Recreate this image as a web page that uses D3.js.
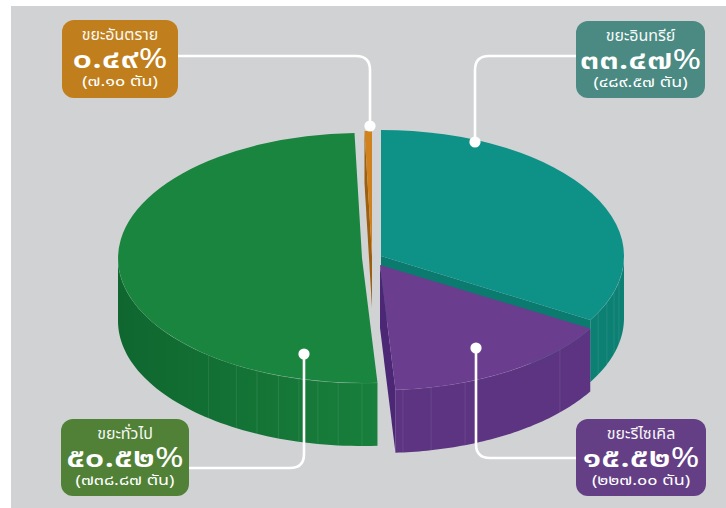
<!DOCTYPE html>
<html lang="th">
<head>
<meta charset="utf-8">
<script src="https://cdn.jsdelivr.net/npm/d3@7"></script>
<style>
  html, body { margin: 0; padding: 0; background: #fff; }
  svg { display: block; }
  text { font-family: "Noto Sans Thai", "Noto Sans", "Open Sans", sans-serif; fill: #fff; text-anchor: middle; }
</style>
</head>
<body>
<svg id="chart" width="726" height="508"></svg>
<script>
// Waste composition, in clockwise order from twelve o'clock
const categories = ["ขยะอินทรีย์", "ขยะรีไซเคิล", "ขยะทั่วไป", "ขยะอันตราย"];
const shares = [33.47, 15.52, 50.52, 0.49];
const tonnes = [489.57, 227.00, 738.87, 7.10];
const unit = "ตัน";

const topColors = ["#0e9187", "#6b3d8e", "#1a853e", "#d0821e"];
const wallColors = ["#0d8074", "#5c3482", "#14723a", "#9c5f12"];
const cutColors = ["#0b7a6f", "#4c2776", "#14723a", "#9c5f12"];
const boxColors = ["#4a8a82", "#653f85", "#518137", "#c07f1c"];

// Each slice is pulled away from the middle on its own centre
const slices = [
  { cx: 381, cy: 256, rx: 243, ry: 126, depth: 62 },
  { cx: 380, cy: 265, rx: 244, ry: 125, depth: 63 },
  { cx: 362, cy: 258, rx: 244, ry: 125, depth: 63 },
  { cx: 372, cy: 256, rx: 244, ry: 125, depth: 52 }
];

// Facet seams on the outer walls, in degrees clockwise from the top
const seams = [
  [116.7, 111.6, 106.5, 101.7],
  [174.6, 167.9, 159.6, 132.5],
  [219, 211, 205.5, 200, 195, 190.4, 185.6, 180],
  []
];

// Callout boxes and the leader line that runs from each one to its slice
const callouts = [
  { x: 576, y: 21, w: 129, h: 77, from: [576, 56], corner: [475, 56], to: [475, 142] },
  { x: 576, y: 419, w: 130, h: 77, from: [576, 458], corner: [476, 458], to: [476, 348] },
  { x: 61, y: 419, w: 128, h: 77, from: [189, 468], corner: [304, 468], to: [304, 354] },
  { x: 62, y: 20, w: 116, h: 78, from: [177, 56], corner: [370, 56], to: [370, 126] }
];

const svg = d3.select("#chart");
const thaiDigits = s => s.replace(/[0-9]/g, d => "๐๑๒๓๔๕๖๗๘๙"[+d]);
const fmt = d3.format(".2f");
const deg = Math.PI / 180;

svg.append("rect").attr("x", 11).attr("y", 6).attr("width", 715).attr("height", 502).attr("fill", "#d1d2d4");

const arcs = d3.pie().sort(null).value(d => d)(shares);
const arcPath = d3.arc().innerRadius(0).outerRadius(100);

const rim = (s, a) => [s.cx + s.rx * Math.sin(a), s.cy - s.ry * Math.cos(a)];
const line = d3.line();

const defs = svg.append("defs");
const greenShade = defs.append("linearGradient").attr("id", "greenWall")
  .attr("gradientUnits", "userSpaceOnUse").attr("x1", 118).attr("x2", 378);
greenShade.append("stop").attr("offset", 0).attr("stop-color", "#0f672f");
greenShade.append("stop").attr("offset", 1).attr("stop-color", "#187f3c");

function drawWall(i) {
  const s = slices[i], a = arcs[i];
  const lo = Math.max(a.startAngle, Math.PI / 2), hi = Math.min(a.endAngle, Math.PI * 1.5);
  if (lo >= hi) return;
  const angles = d3.range(0, 61).map(k => lo + (hi - lo) * k / 60);
  const upper = angles.map(t => rim(s, t));
  const lower = angles.slice().reverse().map(t => { const p = rim(s, t); return [p[0], p[1] + s.depth]; });
  svg.append("path").attr("d", line(upper.concat(lower)) + "Z")
    .attr("fill", i === 2 ? "url(#greenWall)" : wallColors[i]);
  seams[i].forEach(d => {
    const p = rim(s, d * deg);
    svg.append("line").attr("x1", p[0]).attr("x2", p[0]).attr("y1", p[1]).attr("y2", p[1] + s.depth)
      .attr("stroke", "#fff").attr("stroke-opacity", 0.09).attr("stroke-width", 1);
  });
  svg.append("path").attr("d", line(upper)).attr("fill", "none")
    .attr("stroke", "#fff").attr("stroke-opacity", 0.12).attr("stroke-width", 1);
}

// Flat face exposed where a slice was cut, at the given rim angle
function drawCut(i, angle) {
  const s = slices[i], p = rim(s, angle);
  svg.append("path")
    .attr("d", line([[s.cx, s.cy], p, [p[0], p[1] + s.depth], [s.cx, s.cy + s.depth]]) + "Z")
    .attr("fill", cutColors[i]);
}

function drawTop(i) {
  const s = slices[i];
  svg.append("path").attr("d", arcPath(arcs[i]))
    .attr("transform", `translate(${s.cx},${s.cy}) scale(${s.rx / 100},${s.ry / 100})`)
    .attr("fill", topColors[i]);
}

// Back to front: hazardous sliver, organic, recycling, general
drawCut(3, arcs[3].startAngle);
drawTop(3);

drawWall(0);
drawCut(0, arcs[0].endAngle);
drawTop(0);

drawWall(1);
drawCut(1, arcs[1].endAngle);
drawTop(1);

drawWall(2);
drawTop(2);

// Leader lines with rounded elbows, dots, then the boxes over the line ends
callouts.forEach(c => {
  const r = 14;
  const dx = Math.sign(c.corner[0] - c.from[0]), dy = Math.sign(c.to[1] - c.corner[1]);
  const p = d3.path();
  p.moveTo(c.from[0], c.from[1]);
  p.lineTo(c.corner[0] - dx * r, c.corner[1]);
  p.quadraticCurveTo(c.corner[0], c.corner[1], c.corner[0], c.corner[1] + dy * r);
  p.lineTo(c.to[0], c.to[1]);
  svg.append("path").attr("d", p.toString()).attr("fill", "none").attr("stroke", "#fff").attr("stroke-width", 2.6);
  svg.append("circle").attr("cx", c.to[0]).attr("cy", c.to[1]).attr("r", 5.6).attr("fill", "#fff");
});

callouts.forEach((c, i) => {
  const g = svg.append("g");
  const mid = c.x + c.w / 2;
  g.append("rect").attr("x", c.x).attr("y", c.y).attr("width", c.w).attr("height", c.h)
    .attr("rx", 12).attr("fill", boxColors[i]);
  g.append("text").attr("x", mid).attr("y", c.y + 20).attr("font-size", 16).attr("opacity", 0.95).text(categories[i]);
  // The headline figure and the tonnage are set in a wide cut of the digits
  const big = g.append("text").attr("transform", `translate(${mid},${c.y + 48}) scale(1.28,1)`)
    .attr("font-size", 27).attr("font-weight", 600);
  big.append("tspan").text(thaiDigits(fmt(shares[i])));
  big.append("tspan").attr("font-weight", 400).text("%");
  g.append("text").attr("transform", `translate(${mid},${c.y + 66}) scale(1.2,1)`).attr("font-size", 15)
    .text(`(${thaiDigits(fmt(tonnes[i]))} ${unit})`);
});
</script>
</body>
</html>
